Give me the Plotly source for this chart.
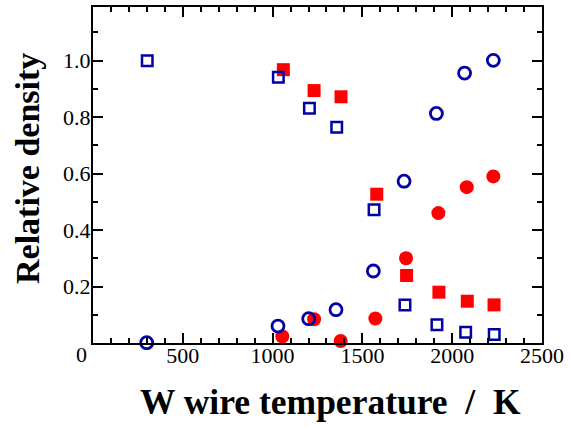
import plotly.graph_objects as go

# Blue open squares
bsq_x = [302, 1032, 1205, 1357, 1565, 1737, 1915, 2075, 2234]
bsq_y = [1.0, 0.941, 0.831, 0.764, 0.472, 0.135, 0.065, 0.038, 0.030]
# Red filled squares
rsq_x = [1060, 1231, 1381, 1580, 1746, 1926, 2084, 2233]
rsq_y = [0.968, 0.894, 0.872, 0.527, 0.239, 0.180, 0.148, 0.135]
# Blue open circles
bci_x = [299, 1030, 1201, 1353, 1561, 1732, 1912, 2069, 2229]
bci_y = [0.001, 0.060, 0.086, 0.118, 0.255, 0.573, 0.813, 0.956, 1.001]
# Red filled circles
rci_x = [1054, 1231, 1379, 1572, 1743, 1923, 2081, 2229]
rci_y = [0.023, 0.084, 0.007, 0.087, 0.300, 0.460, 0.552, 0.590]

x_ticks = [500, 1000, 1500, 2000, 2500]
y_ticks = [0.2, 0.4, 0.6, 0.8, 1.0]

BLUE = "#0000a4"
RED = "#ff0000"
FONT = "Liberation Serif"

W, H = 571, 429
ML, MR, MT, MB = 93, 29, 7, 86
PW, PH = W - ML - MR, H - MT - MB


def px_x(px):
    return (px - ML) / PW


def px_y(py):
    return (H - MB - py) / PH


fig = go.Figure()
fig.add_trace(go.Scatter(x=rsq_x, y=rsq_y, mode="markers", cliponaxis=False,
                         marker=dict(symbol="square", size=13, color=RED)))
fig.add_trace(go.Scatter(x=rci_x, y=rci_y, mode="markers", cliponaxis=False,
                         marker=dict(symbol="circle", size=14, color=RED)))
fig.add_trace(go.Scatter(x=bsq_x, y=bsq_y, mode="markers", cliponaxis=False,
                         marker=dict(symbol="square-open", size=10.5, color=BLUE,
                                     line=dict(width=2.5, color=BLUE))))
fig.add_trace(go.Scatter(x=bci_x, y=bci_y, mode="markers", cliponaxis=False,
                         marker=dict(symbol="circle-open", size=12, color=BLUE,
                                     line=dict(width=2.8, color=BLUE))))

fig.update_layout(
    width=W, height=H,
    margin=dict(l=ML, r=MR, t=MT, b=MB, autoexpand=False),
    paper_bgcolor="white", plot_bgcolor="white",
    showlegend=False,
    font=dict(family=FONT, size=22, color="black"),
    xaxis=dict(
        range=[0, 2500], tickvals=x_ticks, ticktext=[str(v) for v in x_ticks],
        showgrid=False, zeroline=False, showline=True, linecolor="black", linewidth=2,
        mirror="allticks", ticks="inside", ticklen=10, tickwidth=2, tickcolor="black",
        minor=dict(dtick=100, tick0=0, ticks="inside", ticklen=5, tickwidth=1.5, tickcolor="black"),
        tickfont=dict(family=FONT, size=22), ticklabelstandoff=-8, automargin=False,
    ),
    yaxis=dict(
        range=[0, 1.19], tickvals=y_ticks, ticktext=["%.1f" % v for v in y_ticks],
        showgrid=False, zeroline=False, showline=True, linecolor="black", linewidth=2,
        mirror="allticks", ticks="inside", ticklen=10, tickwidth=2, tickcolor="black",
        minor=dict(dtick=0.1, tick0=0, ticks="inside", ticklen=5, tickwidth=1.5, tickcolor="black"),
        tickfont=dict(family=FONT, size=22), ticklabelstandoff=-4, automargin=False,
    ),
)
fig.add_annotation(text="0", showarrow=False, xref="paper", yref="paper",
                   x=px_x(81), y=px_y(354), xanchor="center", yanchor="middle",
                   font=dict(family=FONT, size=22))
fig.add_annotation(text="<b>W wire temperature&nbsp;&nbsp;/&nbsp;&nbsp;K</b>", showarrow=False,
                   xref="paper", yref="paper", x=px_x(330), y=px_y(402),
                   xanchor="center", yanchor="middle",
                   font=dict(family=FONT, size=35.5))
fig.add_annotation(text="<b>Relative density</b>", showarrow=False, textangle=-90,
                   xref="paper", yref="paper", x=px_x(28), y=px_y(169),
                   xanchor="center", yanchor="middle",
                   font=dict(family=FONT, size=34))
fig.write_html("out.html", config={"displayModeBar": False},
               post_script="document.body.style.margin='0';")
